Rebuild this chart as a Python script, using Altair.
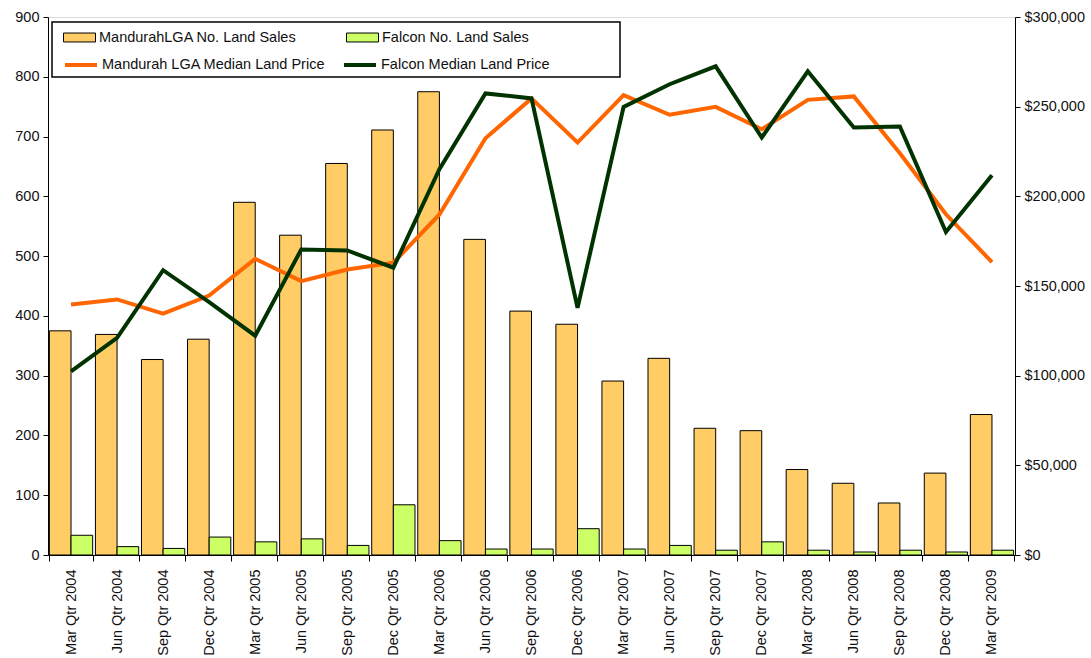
import altair as alt
import pandas as pd

quarters = [
    "Mar Qtr 2004", "Jun Qtr 2004", "Sep Qtr 2004", "Dec Qtr 2004",
    "Mar Qtr 2005", "Jun Qtr 2005", "Sep Qtr 2005", "Dec Qtr 2005",
    "Mar Qtr 2006", "Jun Qtr 2006", "Sep Qtr 2006", "Dec Qtr 2006",
    "Mar Qtr 2007", "Jun Qtr 2007", "Sep Qtr 2007", "Dec Qtr 2007",
    "Mar Qtr 2008", "Jun Qtr 2008", "Sep Qtr 2008", "Dec Qtr 2008",
    "Mar Qtr 2009",
]
mandurah_sales = [375, 369, 327, 361, 590, 535, 655, 711, 775, 528, 408, 386,
                  291, 329, 212, 208, 143, 120, 87, 137, 235]
falcon_sales = [33, 14, 11, 30, 22, 27, 16, 84, 24, 10, 10, 44,
                10, 16, 8, 22, 8, 5, 8, 5, 8]
mandurah_price = [139700, 142500, 134600, 144700, 165200, 152700, 159200, 163000,
                  189900, 232400, 254600, 230000, 256400, 245500, 249900, 237400,
                  253800, 255700, 224000, 190000, 163300]
falcon_price = [102400, 121100, 158800, 141000, 122300, 170400, 169800, 160200,
                215100, 257400, 254600, 137800, 249900, 262500, 272500, 232800,
                269700, 238400, 238900, 180100, 211700]

bar_names = ["MandurahLGA No. Land Sales", "Falcon No. Land Sales"]
line_names = ["Mandurah LGA Median Land Price", "Falcon Median Land Price"]
bar_colors = ["#FFCC66", "#CCFF66"]
line_colors = ["#FF6600", "#003300"]

bars_df = pd.DataFrame({
    "quarter": quarters * 2,
    "series": [bar_names[0]] * len(quarters) + [bar_names[1]] * len(quarters),
    "value": mandurah_sales + falcon_sales,
})
lines_df = pd.DataFrame({
    "quarter": quarters * 2,
    "line": [line_names[0]] * len(quarters) + [line_names[1]] * len(quarters),
    "price": mandurah_price + falcon_price,
})

FONT = "Liberation Sans"
FS = 14.5

x_enc = alt.X(
    "quarter:N", sort=quarters, title=None,
    scale=alt.Scale(paddingInner=0.06, paddingOuter=0.03),
    axis=alt.Axis(labelAngle=270, labelFont=FONT, labelFontSize=FS, labelColor="#111",
                  tickBand="extent", tickSize=6, tickColor="black", domainColor="black",
                  labelPadding=8, grid=False),
)

bars = alt.Chart(bars_df).mark_bar(stroke="black", strokeWidth=1).encode(
    x=x_enc,
    xOffset=alt.XOffset("series:N", sort=bar_names,
                        scale=alt.Scale(domain=bar_names, paddingInner=0, paddingOuter=0)),
    y=alt.Y("value:Q", title=None,
            scale=alt.Scale(domain=[0, 900], nice=False),
            axis=alt.Axis(orient="left", values=list(range(0, 901, 100)), grid=False,
                          labelFont=FONT, labelFontSize=FS, labelColor="#111",
                          tickColor="black", domainColor="black", tickSize=5,
                          labelPadding=4)),
    fill=alt.Fill("series:N", scale=alt.Scale(domain=bar_names, range=bar_colors),
                  legend=alt.Legend(orient="none", legendX=15, legendY=4,
                                    direction="horizontal", columns=2, title=None,
                                    symbolType="M-1,-0.28L1,-0.28L1,0.28L-1,0.28Z",
                                    symbolSize=1024, symbolStrokeColor="black",
                                    symbolStrokeWidth=1, symbolOpacity=1,
                                    labelFont=FONT, labelFontSize=FS, labelColor="#111",
                                    labelOffset=3, columnPadding=47, padding=0,
                                    labelLimit=400)),
)

lines = alt.Chart(lines_df).mark_line(strokeWidth=4).encode(
    x=alt.X("quarter:N", sort=quarters),
    y=alt.Y("price:Q", title=None,
            scale=alt.Scale(domain=[0, 300000], nice=False),
            axis=alt.Axis(orient="right", values=list(range(0, 300001, 50000)),
                          format="$,.0f", grid=False, labelFont=FONT, labelFontSize=FS,
                          labelColor="#111", tickColor="black", domainColor="black",
                          tickSize=5, labelPadding=4)),
    stroke=alt.Stroke("line:N", scale=alt.Scale(domain=line_names, range=line_colors),
                      legend=alt.Legend(orient="none", legendX=15, legendY=30,
                                        direction="horizontal", columns=2, title=None,
                                        symbolType="stroke", symbolSize=1024,
                                        symbolStrokeWidth=4,
                                        labelFont=FONT, labelFontSize=FS, labelColor="#111",
                                        labelOffset=3, columnPadding=10, padding=0,
                                        labelLimit=400)),
    detail="line:N",
)

legend_box = alt.Chart(pd.DataFrame({"a": [0]})).mark_rect(
    fill="white", stroke="black", strokeWidth=1.5
).encode(
    x=alt.value(4), x2=alt.value(572), y=alt.value(5), y2=alt.value(60)
)

chart = alt.layer(bars, lines, legend_box).resolve_scale(
    y="independent", fill="independent", stroke="independent"
).properties(
    width=967, height=538,
    padding={"left": 48, "top": 17, "right": 76, "bottom": 103},
    autosize=alt.AutoSizeParams(type="none"),
).configure_view(stroke="#999999", strokeWidth=1).configure(background="white")

chart.save("out.html", embed_options={"renderer": "svg", "actions": False})
